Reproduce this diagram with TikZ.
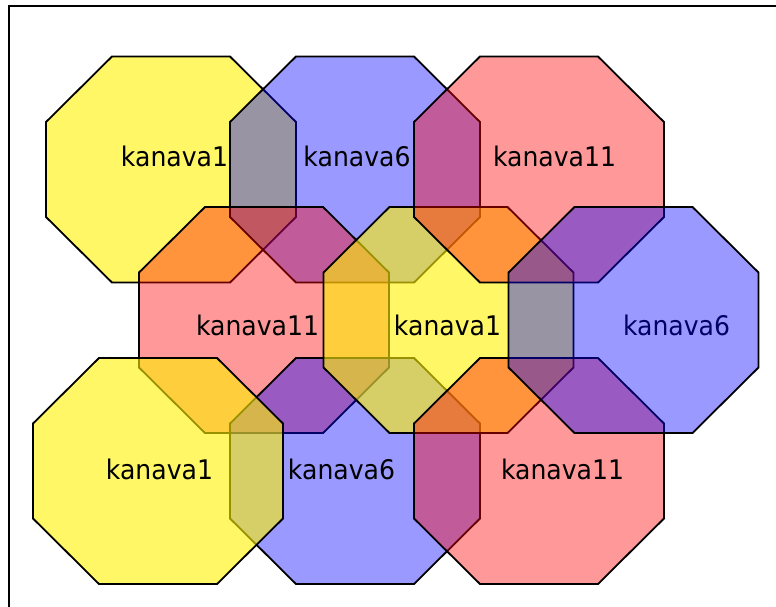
\documentclass[tikz,border=0pt]{standalone}
\usepackage{fontspec}
\setmainfont[FakeStretch=0.93]{DejaVu Sans}
\begin{document}
\begin{tikzpicture}[x=1pt,y=-1pt]
\tikzset{
  octa/.pic={\path[pic actions] (-59,-113) -- (59,-113) -- (125,-47.5) -- (125,47.5) -- (59,113) -- (-59,113) -- (-125,47.5) -- (-125,-47.5) -- cycle;},
  cellbase/.style={draw=black, line width=1.8pt, line join=miter},
  cellY/.style={cellbase, fill=yellow, fill opacity=0.6},
  cellB/.style={cellbase, fill=blue, fill opacity=0.4},
  cellR/.style={cellbase, fill=red, fill opacity=0.4},
  lab/.style={anchor=base, inner sep=0pt, font=\fontsize{27}{30}\selectfont},
  frameline/.style={draw=black, line width=1.8pt}
}
\clip (0,0) rectangle (776,606);
\fill[white] (0,0) rectangle (776,606);
\draw[frameline] (9,650) -- (9,6) -- (820,6);
% top row
\pic[cellY] at (171,169.5) {octa};
\node[lab] (t1) at (174.5,166.5) {kanava1};
\pic[cellB] at (355,169.5) {octa};
\node[lab] (t6) at (357,166.5) {kanava6};
% middle left red
\pic[cellR] at (264,320) {octa};
\node[lab] (m11) at (257.5,335) {kanava11};
% bottom blue and yellow
\pic[cellB] at (355,471) {octa};
\node[lab] (b6) at (341.5,479) {kanava6};
\pic[cellY] at (158,471) {octa};
\node[lab] (b1) at (159.5,479) {kanava1};
% middle yellow
\pic[cellY] at (448.5,320) {octa};
\node[lab] (m1) at (447.5,335) {kanava1};
% top red
\pic[cellR] at (539,169.5) {octa};
\node[lab] (t11) at (554.5,166.5) {kanava11};
% bottom red
\pic[cellR] at (539,471) {octa};
\node[lab] (b11) at (562.5,479) {kanava11};
% middle right blue (its label lies under its fill)
\node[lab] (m6) at (676.5,335) {kanava6};
\pic[cellB] at (633.5,320) {octa};
\end{tikzpicture}
\end{document}
